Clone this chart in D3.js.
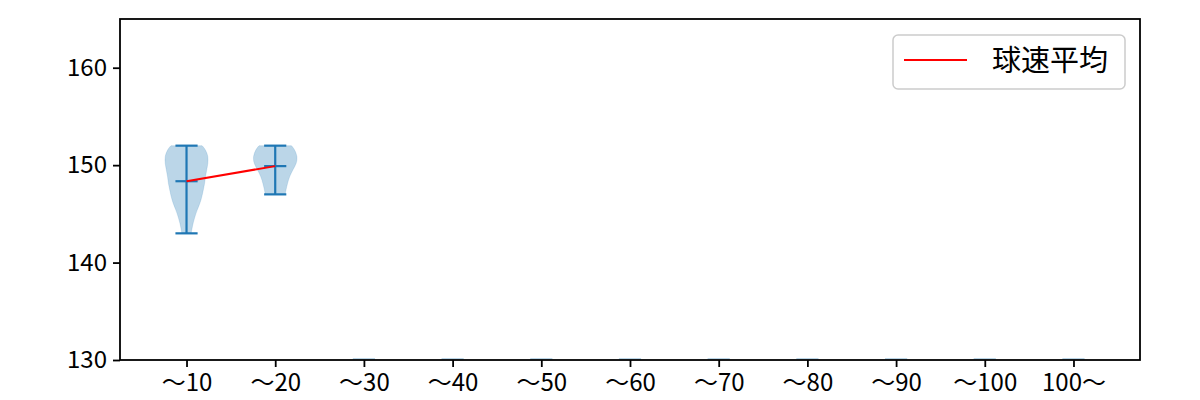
<!DOCTYPE html>
<html>
<head>
<meta charset="utf-8">
<script src="https://cdn.jsdelivr.net/npm/d3@7"></script>
<style>
  body { margin: 0; background: #fff; }
  text { font-family: "Noto Sans CJK JP", "Noto Sans", sans-serif; fill: #000; }
</style>
</head>
<body>
<div id="chart"></div>
<script>
// categories on the x axis
const categories = ["～10", "～20", "～30", "～40", "～50", "～60", "～70", "～80", "～90", "～100", "100～"];
const yTicks = [130, 140, 150, 160];

// speed stats for the two categories that have data
const minSpeed = [143, 147];
const maxSpeed = [152, 152];
const meanSpeed = [148.35, 149.9];

// violin outlines (speed, relative half width)
const violin1Speed = [143, 143.4, 144.1, 144.8, 145.4, 146.1, 146.8, 147.5, 148.1, 148.8, 149.5, 150.2, 150.9, 151.6, 152];
const violin1Width = [0.21, 0.24, 0.30, 0.39, 0.48, 0.61, 0.70, 0.76, 0.82, 0.85, 0.91, 0.97, 0.98, 0.86, 0.70];
const violin2Speed = [147, 147.4, 148.1, 148.8, 149.5, 150.2, 150.9, 151.6, 152];
const violin2Width = [0.45, 0.48, 0.55, 0.64, 0.79, 0.97, 1.0, 0.88, 0.73];

// empty categories sit flat on the bottom of the axis
const emptyValue = 130;

const W = 1200, H = 400;
const margin = {top: 19, right: 60, bottom: 40, left: 120};
const width = W - margin.left - margin.right;
const height = H - margin.top - margin.bottom;
const blue = "#1f77b4";

const svg = d3.select("#chart").append("svg")
    .attr("width", W)
    .attr("height", H)
    .append("g")
    .attr("transform", "translate(" + margin.left + "," + margin.top + ")");

const x = d3.scaleLinear().domain([0.25, categories.length + 0.75]).range([0, width]);
const y = d3.scaleLinear().domain([130, 165]).range([height, 0]);

const halfW = 0.25;   // max violin half width, in category units
const capW = 0.125;

const violins = [
    {pos: 1, speed: violin1Speed, w: violin1Width},
    {pos: 2, speed: violin2Speed, w: violin2Width}
];

// violin bodies
const area = d3.area()
    .curve(d3.curveBasis)
    .y(d => y(d[0]))
    .x0(d => d[2] - d[1] * (x(1 + halfW) - x(1)))
    .x1(d => d[2] + d[1] * (x(1 + halfW) - x(1)));

svg.append("g").selectAll("path")
    .data(violins)
    .enter().append("path")
    .attr("d", v => area(v.speed.map((s, i) => [s, v.w[i], x(v.pos)])))
    .attr("fill", blue)
    .attr("fill-opacity", 0.3)
    .attr("stroke", blue)
    .attr("stroke-opacity", 0.3)
    .attr("stroke-width", 0.5);

// flat marks for empty categories
svg.append("g").selectAll("line")
    .data(d3.range(3, categories.length + 1))
    .enter().append("line")
    .attr("x1", d => x(d - capW))
    .attr("x2", d => x(d + capW))
    .attr("y1", y(emptyValue) - 1)
    .attr("y2", y(emptyValue) - 1)
    .attr("stroke", blue)
    .attr("stroke-opacity", 0.3)
    .attr("stroke-width", 2);

// extrema bars and mean ticks
const bars = svg.append("g").attr("stroke", blue).attr("stroke-width", 2.2);
violins.forEach((v, i) => {
    const cx = x(v.pos);
    bars.append("line").attr("x1", cx).attr("x2", cx)
        .attr("y1", y(minSpeed[i])).attr("y2", y(maxSpeed[i]));
    [minSpeed[i], maxSpeed[i], meanSpeed[i]].forEach(val => {
        bars.append("line")
            .attr("x1", x(v.pos - capW)).attr("x2", x(v.pos + capW))
            .attr("y1", y(val)).attr("y2", y(val));
    });
});

// mean line
svg.append("path")
    .datum(meanSpeed)
    .attr("d", d3.line().x((d, i) => x(i + 1)).y(d => y(d)))
    .attr("fill", "none")
    .attr("stroke", "red")
    .attr("stroke-width", 2);

// axes
const xAxis = svg.append("g")
    .attr("transform", "translate(0," + height + ")")
    .call(d3.axisBottom(x)
        .tickValues(d3.range(1, categories.length + 1))
        .tickFormat(d => categories[d - 1])
        .tickSize(7).tickPadding(7));
const yAxis = svg.append("g")
    .call(d3.axisLeft(y).tickValues(yTicks).tickSize(7).tickPadding(6));

[xAxis, yAxis].forEach(a => {
    a.select(".domain").remove();
    a.selectAll(".tick line").attr("stroke", "#000").attr("stroke-width", 1.8);
    a.selectAll(".tick text").style("font-size", "24px");
});

// frame
svg.append("rect")
    .attr("width", width).attr("height", height)
    .attr("fill", "none")
    .attr("stroke", "#000")
    .attr("stroke-width", 1.8);

// legend
const legend = svg.append("g").attr("transform", "translate(" + (893 - margin.left) + "," + (35 - margin.top) + ")");
legend.append("rect")
    .attr("width", 232).attr("height", 54)
    .attr("rx", 5)
    .attr("fill", "#fff").attr("fill-opacity", 0.8)
    .attr("stroke", "#ccc").attr("stroke-width", 1.5);
legend.append("line")
    .attr("x1", 11).attr("x2", 74)
    .attr("y1", 25).attr("y2", 25)
    .attr("stroke", "red").attr("stroke-width", 2);
legend.append("text")
    .attr("x", 99).attr("y", 36)
    .style("font-size", "29px")
    .text("球速平均");
</script>
</body>
</html>
